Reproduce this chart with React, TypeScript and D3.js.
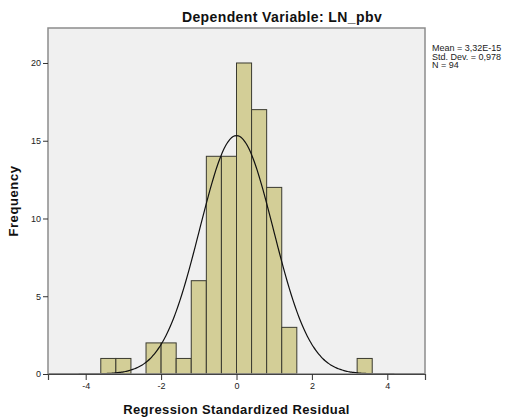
import React, { useRef, useEffect } from 'react';
import * as d3 from 'd3';

// histogram bins (left edge) and frequencies
const binStarts = [-3.6, -3.2, -2.4, -2.0, -1.6, -1.2, -0.8, -0.4, 0, 0.4, 0.8, 1.2, 3.2];
const counts = [1, 1, 2, 2, 1, 6, 14, 14, 20, 17, 12, 3, 1];
const binWidth = 0.4;

const xTicks = [-4, -2, 0, 2, 4];
const yTicks = [0, 5, 10, 15, 20];

// fitted normal curve parameters
const mean = 3.32e-15;
const stdDev = 0.978;
const nObs = 94;
const statsLines = ['Mean = 3,32E-15', 'Std. Dev. = 0,978', 'N = 94'];

const title = 'Dependent Variable: LN_pbv';
const xLabel = 'Regression Standardized Residual';
const yLabel = 'Frequency';

const FONT = 'Liberation Sans, Arial, sans-serif';

function App() {
  const svgRef = useRef<SVGSVGElement | null>(null);
  const width = 508;
  const height = 419;

  useEffect(() => {
    const svg = d3.select(svgRef.current);
    svg.selectAll('*').remove();

    const plot = { left: 48, right: 425, top: 28, bottom: 374 };

    const x = d3.scaleLinear().domain([-5, 5]).range([plot.left, plot.right]);
    const y = d3.scaleLinear().domain([0, 22.25]).range([plot.bottom, plot.top]);

    svg.append('rect')
      .attr('width', width)
      .attr('height', height)
      .attr('fill', '#ffffff');

    // plot background
    svg.append('rect')
      .attr('x', plot.left)
      .attr('y', plot.top)
      .attr('width', plot.right - plot.left)
      .attr('height', plot.bottom - plot.top)
      .attr('fill', '#f0f0f0');

    // bars
    const bins = binStarts.map((b, i) => ({ x0: b, x1: b + binWidth, count: counts[i] }));
    svg.selectAll('.bar')
      .data(bins)
      .enter()
      .append('rect')
      .attr('class', 'bar')
      .attr('x', d => x(d.x0))
      .attr('y', d => y(d.count))
      .attr('width', d => x(d.x1) - x(d.x0))
      .attr('height', d => y(0) - y(d.count))
      .attr('fill', '#d3ce97')
      .attr('stroke', '#3a3a30')
      .attr('stroke-width', 1);

    // normal curve
    const pdf = (v: number) =>
      nObs * binWidth * Math.exp(-0.5 * ((v - mean) / stdDev) ** 2) / (stdDev * Math.sqrt(2 * Math.PI));
    const pts = d3.range(-5, 5.0001, 0.05).map(v => [v, pdf(v)] as [number, number]);
    svg.append('path')
      .datum(pts)
      .attr('d', d3.line<[number, number]>().x(d => x(d[0])).y(d => y(d[1])).curve(d3.curveBasis))
      .attr('fill', 'none')
      .attr('stroke', '#111')
      .attr('stroke-width', 1.2);

    // border
    svg.append('rect')
      .attr('x', plot.left)
      .attr('y', plot.top)
      .attr('width', plot.right - plot.left)
      .attr('height', plot.bottom - plot.top)
      .attr('fill', 'none')
      .attr('stroke', '#8c8c8c')
      .attr('stroke-width', 1.5);

    // x axis
    const xAxis = svg.append('g')
      .attr('transform', `translate(0,${plot.bottom})`)
      .call(d3.axisBottom(x).tickValues(xTicks).tickSize(6).tickPadding(3).tickFormat(d => String(d)));
    xAxis.select('.domain').attr('stroke', '#444').attr('stroke-width', 1.2);
    xAxis.selectAll('.tick line').attr('stroke', '#333');
    xAxis.selectAll('text')
      .style('font-family', FONT)
      .style('font-size', '9px')
      .attr('fill', '#222');

    // y axis
    const yAxis = svg.append('g')
      .attr('transform', `translate(${plot.left},0)`)
      .call(d3.axisLeft(y).tickValues(yTicks).tickSize(5).tickPadding(2).tickFormat(d => String(d)));
    yAxis.select('.domain').remove();
    yAxis.selectAll('.tick line').attr('stroke', '#333');
    yAxis.selectAll('text')
      .style('font-family', FONT)
      .style('font-size', '9px')
      .attr('fill', '#222');

    // title
    svg.append('text')
      .attr('x', 282)
      .attr('y', 22)
      .attr('text-anchor', 'middle')
      .style('font-family', FONT)
      .style('font-size', '14px')
      .style('font-weight', 'bold')
      .style('letter-spacing', '0.4px')
      .attr('fill', '#111')
      .text(title);

    // axis labels
    svg.append('text')
      .attr('x', (plot.left + plot.right) / 2)
      .attr('y', 414)
      .attr('text-anchor', 'middle')
      .style('font-family', FONT)
      .style('font-size', '13px')
      .style('font-weight', 'bold')
      .style('letter-spacing', '0.4px')
      .attr('fill', '#111')
      .text(xLabel);

    svg.append('text')
      .attr('transform', 'rotate(-90)')
      .attr('x', -(plot.top + plot.bottom) / 2)
      .attr('y', 18)
      .attr('text-anchor', 'middle')
      .style('font-family', FONT)
      .style('font-size', '13px')
      .style('font-weight', 'bold')
      .style('letter-spacing', '0.6px')
      .attr('fill', '#111')
      .text(yLabel);

    // stats box
    svg.selectAll('.stat')
      .data(statsLines)
      .enter()
      .append('text')
      .attr('class', 'stat')
      .attr('x', 432)
      .attr('y', (d, i) => 51 + i * 8.5)
      .style('font-family', FONT)
      .style('font-size', '9px')
      .attr('fill', '#222')
      .text(d => d);
  }, []);

  return (
    <svg
      ref={svgRef}
      width={width}
      height={height}
      style={{ position: 'absolute', left: 0, top: 0 }}
    />
  );
}

export default App;
